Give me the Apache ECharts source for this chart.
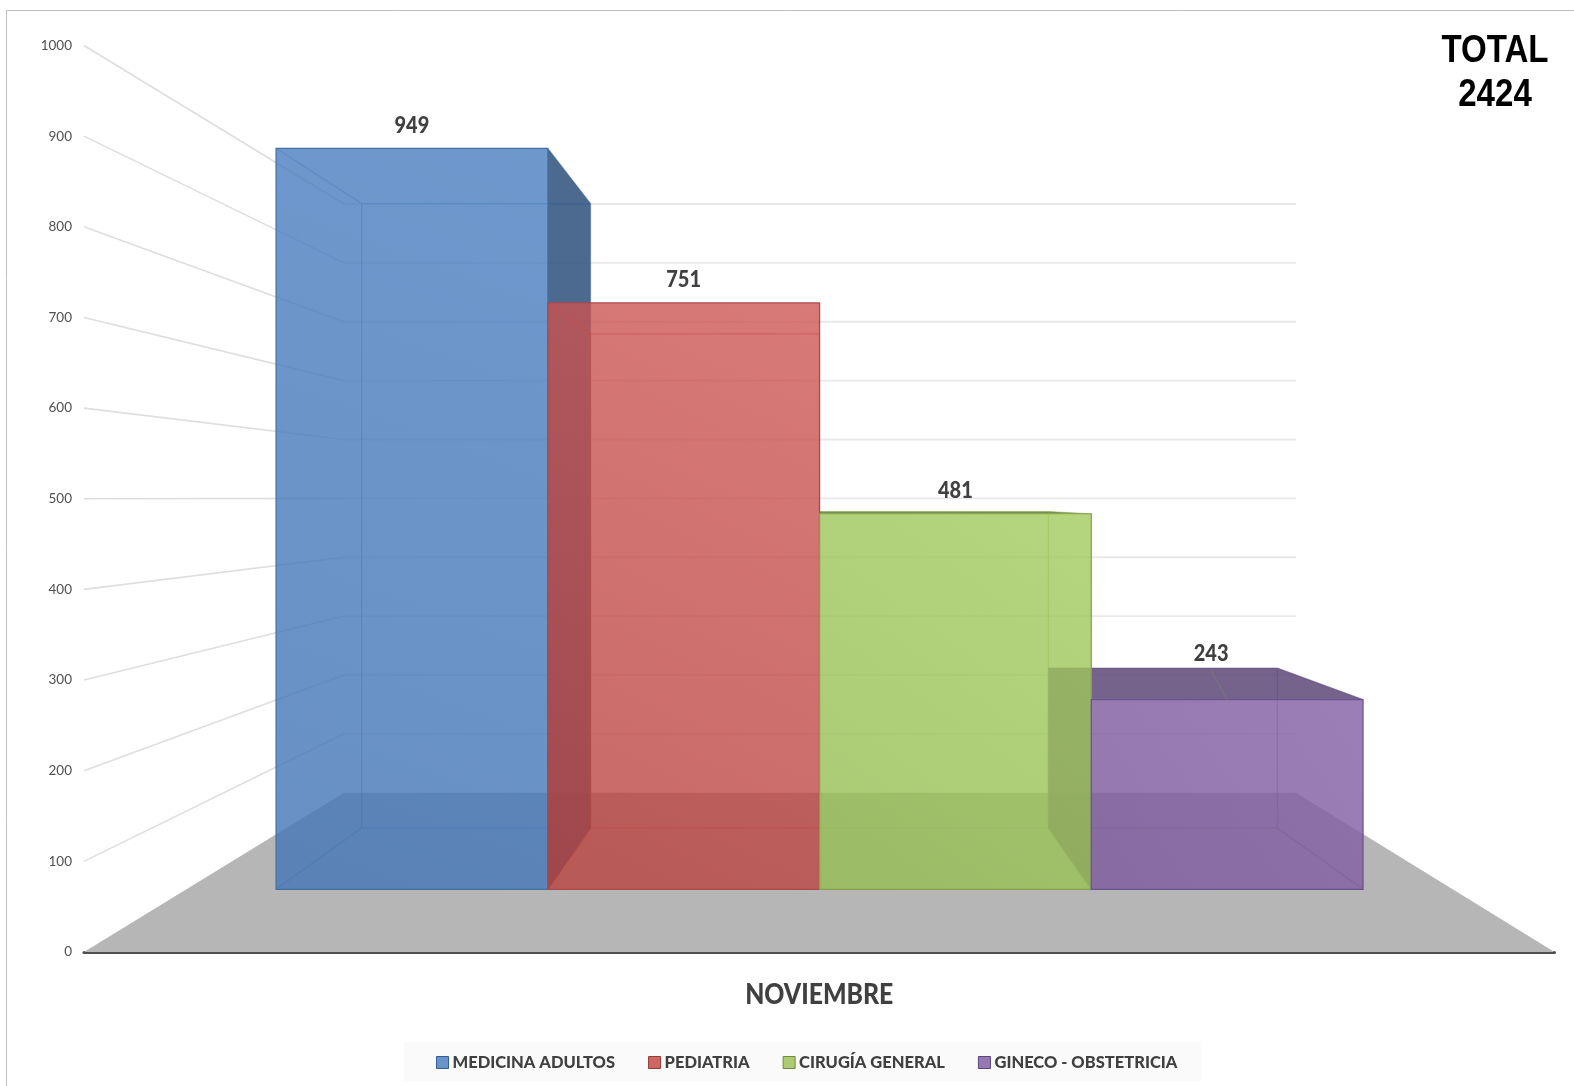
<!DOCTYPE html>
<html>
<head>
<meta charset="utf-8">
<script src="https://cdn.jsdelivr.net/npm/echarts@6/dist/echarts.min.js"></script>
<style>html,body{margin:0;padding:0;background:#fff}#c{width:1574px;height:1086px}</style>
</head>
<body>
<div id="c"></div>
<script>
var categories = ['NOVIEMBRE'];
var seriesNames = ['MEDICINA ADULTOS', 'PEDIATRIA', 'CIRUGÍA GENERAL', 'GINECO - OBSTETRICIA'];
var medicinaAdultos = [949];
var pediatria = [751];
var cirugiaGeneral = [481];
var ginecoObstetricia = [243];
var tickValues = [100, 200, 300, 400, 500, 600, 700, 800, 900, 1000];
var totalLabel = 'TOTAL\n2424';

// Perspective planes: fractions of the category band, and scale/shift of the value axis.
var FRONT = { x0: 0.1306, slot: 0.1848, k: 0.8613, dy: -62.7 };
var BACK  = { x0: 0.1888, slot: 0.15568, k: 0.7259, dy: -124 };
var WALL  = { left: 0.1768, right: 0.8242, k: 0.6494, dy: -159.3 };

var STYLES = [
  { a: 'rgba(68,118,183,0.81)', b: 'rgba(77,129,194,0.81)', edge: '#42719f', inner: 'rgba(50,95,160,0.45)', dark: 'rgba(43,80,121,0.85)', legend: '#6a94c9', legendEdge: '#2f5d94' },
  { a: 'rgba(184,64,60,0.79)', b: 'rgba(206,86,84,0.79)', edge: '#a94a4a', inner: 'rgba(170,60,60,0.55)', dark: 'rgba(110,50,50,0.85)', legend: '#cd6764', legendEdge: '#963a38' },
  { a: 'rgba(150,188,82,0.80)', b: 'rgba(162,202,94,0.80)', edge: '#84a24e', inner: 'rgba(130,165,70,0.5)', dark: 'rgba(96,122,52,0.85)', legend: '#aeca72', legendEdge: '#6f8a3c' },
  { a: 'rgba(124,90,156,0.82)', b: 'rgba(132,98,164,0.82)', edge: '#6c5190', inner: 'rgba(100,72,135,0.5)', dark: 'rgba(94,72,119,0.85)', legend: '#9479b3', legendEdge: '#5d4480' }
];
var LABEL_GAP = 23;
var LABEL_NUDGE = [null, null, null, { dx: -16, dy: -23, leader: [-16, -29] }];
var CATEGORY_GAP = 43;

function planeY(api, v, plane) {
  var y0 = api.coord([0, 0])[1];
  var y = api.coord([0, v])[1];
  return y0 + (y - y0) * plane.k + plane.dy;
}
function bandX(api, frac) {
  var c = api.coord([0, 0])[0];
  var w = api.size([1, 0])[0];
  return c - w / 2 + w * frac;
}
function poly(points, fill, z2) {
  return { type: 'polygon', silent: true, z2: z2, shape: { points: points }, style: { fill: fill, stroke: null } };
}
function line(points, stroke, width, z2) {
  return { type: 'polyline', silent: true, z2: z2, shape: { points: points }, style: { stroke: stroke, fill: null, lineWidth: width } };
}
function label(text, x, y, size, color, sx, z2) {
  return {
    type: 'text', silent: true, z2: z2, x: x, y: y, scaleX: sx,
    style: { text: text, fontFamily: 'Lato, sans-serif', fontWeight: 900, fontSize: size, fill: color, align: 'center', verticalAlign: 'middle', textAlign: 'center', textVerticalAlign: 'middle' }
  };
}

function renderBar(slot) {
  return function (params, api) {
    var v = api.value(1);
    var s = STYLES[slot];
    var fl = bandX(api, FRONT.x0 + FRONT.slot * slot), fr = bandX(api, FRONT.x0 + FRONT.slot * (slot + 1));
    var bl = bandX(api, BACK.x0 + BACK.slot * slot), br = bandX(api, BACK.x0 + BACK.slot * (slot + 1));
    var ft = planeY(api, v, FRONT), fb = planeY(api, 0, FRONT);
    var bt = planeY(api, v, BACK), bb = planeY(api, 0, BACK);
    var kids = [];
    if (br > fr + 1) kids.push(poly([[fr, ft], [br, bt], [br, bb], [fr, fb]], s.dark, 2));
    if (bl < fl - 1) kids.push(poly([[fl, ft], [bl, bt], [bl, bb], [fl, fb]], s.dark, 2));
    if (bt < ft - 1) kids.push(poly([[fl, ft], [fr, ft], [br, bt], [bl, bt]], s.dark, 2));
    kids.push(line([[bl, bt], [br, bt]], s.inner, 1.2, 3));
    kids.push(line([[bl, bt], [bl, bb]], s.inner, 1.2, 3));
    kids.push(line([[br, bt], [br, bb]], s.inner, 1.2, 3));
    kids.push(line([[bl, bb], [br, bb]], s.inner, 1.2, 3));
    kids.push(line([[fl, ft], [bl, bt]], s.inner, 1.2, 3));
    kids.push(line([[fr, ft], [br, bt]], s.inner, 1.2, 3));
    kids.push(line([[fl, fb], [bl, bb]], s.inner, 1.2, 3));
    kids.push(line([[fr, fb], [br, bb]], s.inner, 1.2, 3));
    kids.push({
      type: 'rect', silent: true, z2: 4,
      shape: { x: fl, y: ft, width: fr - fl, height: fb - ft },
      style: {
        fill: { type: 'linear', x: 0, y: 1, x2: 1, y2: 0, colorStops: [{ offset: 0, color: s.a }, { offset: 1, color: s.b }] },
        stroke: s.edge, lineWidth: 1.2
      }
    });
    var n = LABEL_NUDGE[slot] || { dx: 0, dy: 0 };
    var cx = (fl + fr) / 2, ly = ft - LABEL_GAP + n.dy;
    kids.push(label(String(v), cx + n.dx, ly, 23, '#404040', 0.87, 8));
    if (n.leader) {
      kids.push(line([[cx + n.leader[0], ft + n.leader[1]], [cx, ft]], 'rgba(120,130,100,0.75)', 1, 5));
    }
    return { type: 'group', children: kids };
  };
}

function renderFloor(params, api) {
  var y0 = api.coord([0, 0])[1];
  var yb = planeY(api, 0, WALL);
  return {
    type: 'group',
    children: [
      poly([[bandX(api, 0), y0], [bandX(api, 1), y0], [bandX(api, WALL.right), yb], [bandX(api, WALL.left), yb]], '#b6b6b6', 1),
      label(categories[api.value(0)], bandX(api, 0.5), y0 + CATEGORY_GAP, 29, '#404040', 0.855, 8)
    ]
  };
}
function renderGrid(params, api) {
  var v = api.value(1);
  var yw = planeY(api, v, WALL);
  return {
    type: 'group',
    children: [
      line([[bandX(api, 0), api.coord([0, v])[1]], [bandX(api, WALL.left), yw]], '#dedede', 1.6, 0),
      line([[bandX(api, WALL.left), yw], [bandX(api, WALL.right), yw]], '#e8e8e8', 1.8, 0)
    ]
  };
}
function one(arr) { return arr.map(function (v) { return [0, v]; }); }
var allValues = [medicinaAdultos, pediatria, cirugiaGeneral, ginecoObstetricia];

var series = [
  { type: 'custom', name: 'floor', silent: true, clip: false, data: [[0, 0]], encode: { x: 0, y: 1 }, renderItem: renderFloor },
  { type: 'custom', name: 'grid', silent: true, clip: false, data: one(tickValues), encode: { x: 0, y: 1 }, renderItem: renderGrid }
];
allValues.forEach(function (vals, i) {
  series.push({
    type: 'custom', name: seriesNames[i], clip: false, data: one(vals), encode: { x: 0, y: 1 },
    renderItem: renderBar(i), itemStyle: { color: STYLES[i].legend }
  });
});

var chart = echarts.init(document.getElementById('c'), null, { renderer: 'canvas' });
chart.setOption({
  animation: false,
  backgroundColor: '#ffffff',
  tooltip: { show: false },
  grid: { left: 84, right: 19.5, top: 45.5, bottom: 134, containLabel: false },
  xAxis: {
    type: 'category', data: categories, boundaryGap: true,
    axisTick: { show: false },
    axisLine: { lineStyle: { color: '#505050', width: 3 } },
    axisLabel: { show: false }
  },
  yAxis: {
    type: 'value', min: 0, max: 1000, interval: 100,
    axisLine: { show: false }, axisTick: { show: false }, splitLine: { show: false },
    axisLabel: {
      margin: 12, fontFamily: 'Lato, sans-serif', fontSize: 13.5, color: '#505050',
      formatter: function (v) { return String(v); }
    }
  },
  legend: {
    left: 404, top: 1042,
    padding: [12, 24, 10, 32],
    backgroundColor: '#fafafa',
    itemWidth: 12, itemHeight: 12, itemGap: 33,
    selectedMode: false,
    textStyle: { fontFamily: 'Lato, sans-serif', fontWeight: 900, fontSize: 16.5, color: '#404040', padding: [0, 0, 0, -1] },
    data: seriesNames.map(function (n, i) {
      return { name: n, icon: 'rect', itemStyle: { color: STYLES[i].legend, borderColor: STYLES[i].legendEdge, borderWidth: 1 } };
    })
  },
  graphic: [
    { type: 'polyline', silent: true, shape: { points: [[6.5, 1086], [6.5, 10.5], [1574, 10.5]] }, style: { stroke: '#c0c0c0', fill: null, lineWidth: 1 } },
    {
      type: 'text', silent: true, x: 1495, y: 74, scaleX: 0.87,
      style: { text: totalLabel, fontFamily: '"Liberation Sans", sans-serif', fontWeight: 'bold', fontSize: 38, lineHeight: 44, fill: '#000', align: 'center', verticalAlign: 'middle', textAlign: 'center', textVerticalAlign: 'middle' }
    }
  ],
  series: series
});
</script>
</body>
</html>
